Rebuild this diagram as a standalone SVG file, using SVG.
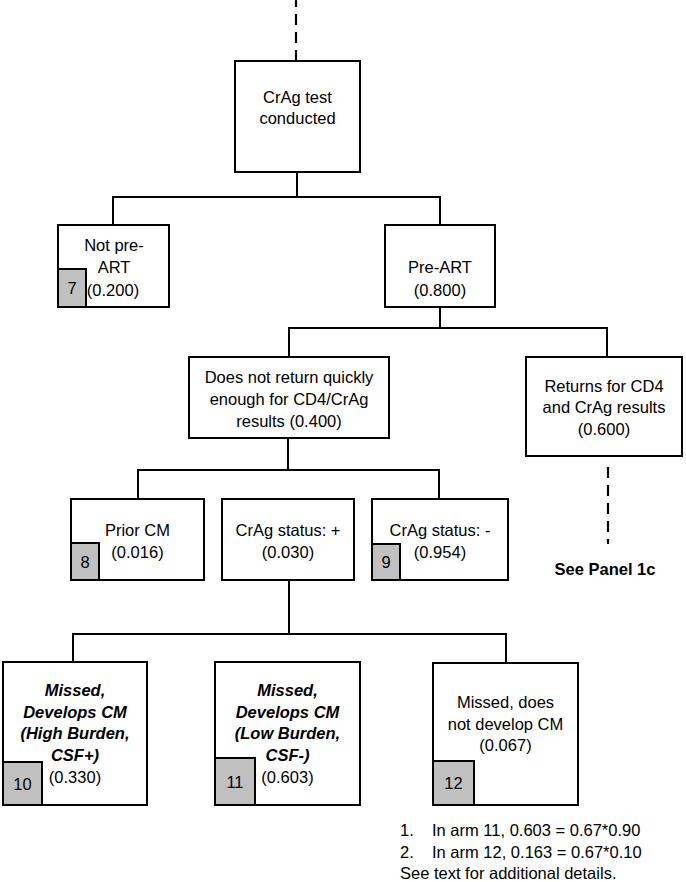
<svg xmlns="http://www.w3.org/2000/svg" width="686" height="882" viewBox="0 0 686 882">
<style>
.box{fill:#fff;stroke:#000;stroke-width:2}
.tag{fill:#c0c0c0;stroke:#000;stroke-width:2}
.t{font-family:"Liberation Sans",Arial,sans-serif;font-size:16.5px;fill:#000;text-anchor:middle}
.bi{font-weight:bold;font-style:italic}
.b{font-weight:bold}
.ln{stroke:#000;stroke-width:2;fill:none}
.dash{stroke:#000;stroke-width:2.2;fill:none;stroke-dasharray:11 7}
</style>
<rect width="686" height="882" fill="#fff"/>
<g id="connectors">
<line class="dash" x1="296" y1="-4" x2="296" y2="61"/>
<polyline class="ln" points="297,172 297,197"/>
<polyline class="ln" points="113,225 113,197 440,197 440,225"/>
<polyline class="ln" points="440,307 440,328"/>
<polyline class="ln" points="289,357 289,328 607,328 607,357"/>
<polyline class="ln" points="288,438 288,470"/>
<polyline class="ln" points="138,499 138,470 439,470 439,499"/>
<polyline class="ln" points="289,580 289,634"/>
<polyline class="ln" points="73,662 73,634 506,634 506,663"/>
<line class="dash" x1="608" y1="467" x2="608" y2="544"/>
</g>
<g id="n-crag">
<rect class="box" x="235" y="61" width="125" height="111"/>
<text class="t" x="297.5" y="103">CrAg test</text>
<text class="t" x="297.5" y="124">conducted</text>
</g>
<g id="n-notpreart">
<rect class="box" x="58" y="225" width="111" height="82"/>
<text class="t" x="114" y="251">Not pre-</text>
<text class="t" x="114" y="273">ART</text>
<text class="t" x="113" y="296">(0.200)</text>
<rect class="tag" x="58" y="269" width="28" height="38"/>
<text class="t" x="72" y="294">7</text>
</g>
<g id="n-preart">
<rect class="box" x="385" y="225" width="110" height="82"/>
<text class="t" x="440" y="273">Pre-ART</text>
<text class="t" x="440" y="296">(0.800)</text>
</g>
<g id="n-noreturn">
<rect class="box" x="189" y="357" width="200" height="81"/>
<text class="t" x="289" y="383">Does not return quickly</text>
<text class="t" x="289" y="405">enough for CD4/CrAg</text>
<text class="t" x="289" y="427">results (0.400)</text>
</g>
<g id="n-returns">
<rect class="box" x="526" y="357" width="156" height="99"/>
<text class="t" x="604" y="392">Returns for CD4</text>
<text class="t" x="604" y="413">and CrAg results</text>
<text class="t" x="604" y="435">(0.600)</text>
</g>
<g id="n-seepanel">
<text class="t b" x="605" y="575">See Panel 1c</text>
</g>
<g id="n-priorcm">
<rect class="box" x="71" y="499" width="133" height="81"/>
<text class="t" x="137.5" y="536">Prior CM</text>
<text class="t" x="137.5" y="558">(0.016)</text>
<rect class="tag" x="71" y="543" width="28" height="37"/>
<text class="t" x="85" y="568">8</text>
</g>
<g id="n-cragpos">
<rect class="box" x="222" y="499" width="132" height="81"/>
<text class="t" x="288" y="536">CrAg status: +</text>
<text class="t" x="288" y="558">(0.030)</text>
</g>
<g id="n-cragneg">
<rect class="box" x="372" y="499" width="136" height="81"/>
<text class="t" x="440" y="536">CrAg status: -</text>
<text class="t" x="440" y="558">(0.954)</text>
<rect class="tag" x="372" y="544" width="28" height="36"/>
<text class="t" x="386" y="568">9</text>
</g>
<g id="n-high">
<rect class="box" x="3" y="662" width="144" height="143"/>
<text class="t bi" x="75" y="696">Missed,</text>
<text class="t bi" x="75" y="718">Develops CM</text>
<text class="t bi" x="75" y="739">(High Burden,</text>
<text class="t bi" x="75" y="761">CSF+)</text>
<text class="t" x="75" y="783">(0.330)</text>
<rect class="tag" x="3" y="762" width="39" height="43"/>
<text class="t" x="22.5" y="790">10</text>
</g>
<g id="n-low">
<rect class="box" x="215" y="662" width="145" height="143"/>
<text class="t bi" x="287.5" y="696">Missed,</text>
<text class="t bi" x="287.5" y="718">Develops CM</text>
<text class="t bi" x="287.5" y="739">(Low Burden,</text>
<text class="t bi" x="287.5" y="761">CSF-)</text>
<text class="t" x="287.5" y="783">(0.603)</text>
<rect class="tag" x="215" y="758" width="40" height="47"/>
<text class="t" x="235" y="788">11</text>
</g>
<g id="n-nocm">
<rect class="box" x="433" y="663" width="145" height="142"/>
<text class="t" x="505.5" y="708">Missed, does</text>
<text class="t" x="505.5" y="730">not develop CM</text>
<text class="t" x="505.5" y="751">(0.067)</text>
<rect class="tag" x="433" y="761" width="41" height="44"/>
<text class="t" x="453.5" y="789">12</text>
</g>
<g id="notes" font-family="Liberation Sans, Arial, sans-serif" font-size="16.5" fill="#000">
<text x="400" y="836">1.</text>
<text x="432" y="836">In arm 11, 0.603 = 0.67*0.90</text>
<text x="400" y="858">2.</text>
<text x="432" y="858">In arm 12, 0.163 = 0.67*0.10</text>
<text x="400" y="879">See text for additional details.</text>
</g>
</svg>
